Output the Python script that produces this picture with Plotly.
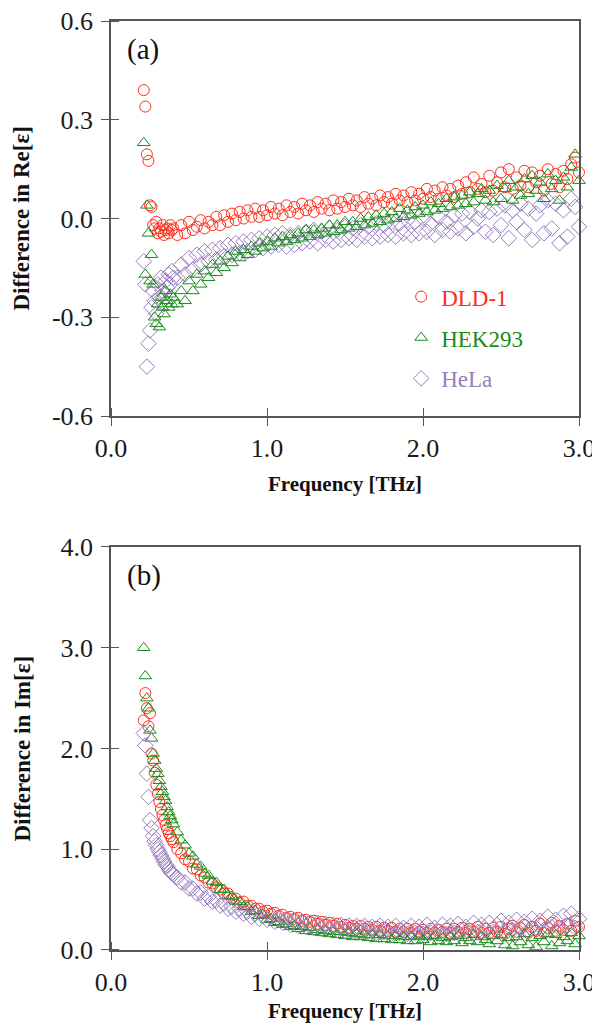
import plotly.graph_objects as go

# Frequency grid [THz]
freq = [0.21, 0.22, 0.23, 0.24, 0.25, 0.26, 0.27, 0.28, 0.29, 0.30,
        0.31, 0.32, 0.33, 0.34, 0.35, 0.36, 0.37, 0.38, 0.39, 0.40,
        0.425, 0.45, 0.475, 0.5, 0.525, 0.55, 0.575, 0.6, 0.625, 0.65,
        0.675, 0.7, 0.725, 0.75, 0.775, 0.8, 0.825, 0.85, 0.875, 0.9,
        0.925, 0.95, 0.975, 1.0, 1.025, 1.05, 1.075, 1.1, 1.125, 1.15,
        1.175, 1.2, 1.225, 1.25, 1.275, 1.3, 1.325, 1.35, 1.375, 1.4,
        1.425, 1.45, 1.475, 1.5, 1.525, 1.55, 1.575, 1.6, 1.625, 1.65,
        1.675, 1.7, 1.725, 1.75, 1.775, 1.8, 1.825, 1.85, 1.875, 1.9,
        1.925, 1.95, 1.975, 2.0, 2.025, 2.05, 2.075, 2.1, 2.125, 2.15,
        2.175, 2.2, 2.225, 2.25, 2.275, 2.3, 2.325, 2.35, 2.375, 2.4,
        2.425, 2.45, 2.475, 2.5, 2.525, 2.55, 2.575, 2.6, 2.625, 2.65,
        2.675, 2.7, 2.725, 2.75, 2.775, 2.8, 2.825, 2.85, 2.875, 2.9,
        2.925, 2.95, 2.975, 3.0]

# (a) difference in Re[eps]
re_dld1 = [0.39, 0.34, 0.195, 0.175, 0.04, 0.035, -0.02, -0.03, -0.01, -0.045,
           -0.03, -0.04, -0.02, -0.05, -0.035, -0.03, -0.045, -0.02, -0.035, -0.03,
           -0.05, -0.02, -0.045, -0.01, -0.035, -0.025, -0.005, -0.03, -0.01, -0.02,
           0.005, -0.02, 0.01, -0.01, 0.015, -0.005, 0.02, 0.0, 0.025, 0.005,
           0.03, 0.005, 0.025, 0.01, 0.035, 0.015, 0.03, 0.01, 0.04, 0.02,
           0.035, 0.015, 0.045, 0.025, 0.04, 0.02, 0.05, 0.03, 0.045, 0.025,
           0.055, 0.03, 0.05, 0.035, 0.06, 0.04, 0.055, 0.035, 0.065, 0.045,
           0.06, 0.04, 0.07, 0.05, 0.065, 0.045, 0.075, 0.055, 0.07, 0.05,
           0.08, 0.055, 0.075, 0.06, 0.09, 0.065, 0.085, 0.06, 0.095, 0.07,
           0.09, 0.065, 0.1, 0.075, 0.11, 0.08, 0.125, 0.09, 0.105, 0.08,
           0.13, 0.085, 0.11, 0.14, 0.095, 0.15, 0.09, 0.125, 0.1, 0.145,
           0.095, 0.14, 0.11, 0.13, 0.085, 0.15, 0.105, 0.135, 0.095, 0.145,
           0.12, 0.165, 0.185, 0.14]
re_hek293 = [0.23, -0.17, 0.04, -0.045, -0.19, -0.11, -0.2, -0.3, -0.32, -0.26,
             -0.33, -0.24, -0.27, -0.29, -0.22, -0.25, -0.27, -0.23, -0.26, -0.24,
             -0.26, -0.22, -0.25, -0.19, -0.22, -0.17, -0.2, -0.16, -0.18, -0.14,
             -0.165, -0.13, -0.15, -0.115, -0.135, -0.1, -0.12, -0.095, -0.11, -0.085,
             -0.1, -0.075, -0.09, -0.07, -0.085, -0.06, -0.075, -0.055, -0.07, -0.05,
             -0.065, -0.045, -0.06, -0.035, -0.055, -0.035, -0.05, -0.03, -0.045, -0.02,
             -0.04, -0.02, -0.035, -0.01, -0.03, -0.01, -0.025, 0.0, -0.02, 0.005,
             -0.015, 0.01, -0.01, 0.015, -0.005, 0.02, 0.0, 0.03, 0.005, 0.025,
             0.01, 0.035, 0.015, 0.04, 0.02, 0.05, 0.025, 0.045, 0.03, 0.06,
             0.035, 0.065, 0.04, 0.07, 0.045, 0.08, 0.05, 0.075, 0.09, 0.055,
             0.085, 0.05, 0.1, 0.06, 0.09, 0.115, 0.055, 0.095, 0.07, 0.12,
             0.075, 0.13, 0.085, 0.11, 0.06, 0.135, 0.09, 0.115, 0.055, 0.125,
             0.095, 0.155, 0.195, 0.115]
re_hela = [-0.13, -0.2, -0.45, -0.38, -0.34, -0.27, -0.22, -0.25, -0.29, -0.2,
           -0.24, -0.18, -0.22, -0.26, -0.19, -0.21, -0.17, -0.2, -0.16, -0.18,
           -0.18, -0.14, -0.17, -0.12, -0.155, -0.11, -0.14, -0.1, -0.13, -0.095,
           -0.125, -0.09, -0.115, -0.08, -0.11, -0.075, -0.105, -0.07, -0.1, -0.065,
           -0.095, -0.06, -0.09, -0.055, -0.085, -0.05, -0.08, -0.045, -0.085, -0.05,
           -0.08, -0.045, -0.075, -0.04, -0.07, -0.035, -0.075, -0.04, -0.065, -0.03,
           -0.07, -0.035, -0.065, -0.025, -0.06, -0.03, -0.065, -0.02, -0.055, -0.025,
           -0.06, -0.015, -0.055, -0.02, -0.05, -0.01, -0.055, -0.015, -0.045, -0.005,
           -0.05, -0.01, -0.045, 0.0, -0.04, -0.015, -0.05, 0.005, -0.035, -0.01,
           -0.04, 0.01, -0.03, 0.015, -0.045, 0.02, -0.025, 0.0, 0.025, -0.04,
           0.02, -0.05, 0.03, -0.02, 0.04, -0.06, 0.025, -0.01, 0.045, -0.035,
           0.03, -0.065, 0.015, 0.04, -0.045, 0.055, -0.03, 0.045, -0.075, 0.025,
           -0.055, 0.06, 0.035, -0.025]

# (b) difference in Im[eps]
im_dld1 = [2.28, 2.55, 2.4, 2.22, 2.35, 1.95, 1.88, 1.76, 1.64, 1.55,
           1.47, 1.4, 1.34, 1.29, 1.24, 1.2, 1.16, 1.13, 1.1, 1.07,
           1.0, 0.96, 0.9, 0.88, 0.81, 0.8, 0.74, 0.72, 0.67, 0.66,
           0.62, 0.6, 0.56, 0.56, 0.51, 0.51, 0.47, 0.48, 0.44, 0.44,
           0.41, 0.41, 0.38, 0.39, 0.36, 0.37, 0.34, 0.35, 0.32, 0.33,
           0.31, 0.32, 0.29, 0.3, 0.28, 0.29, 0.26, 0.28, 0.25, 0.27,
           0.24, 0.26, 0.23, 0.25, 0.22, 0.24, 0.21, 0.24, 0.21, 0.23,
           0.2, 0.23, 0.19, 0.22, 0.19, 0.22, 0.18, 0.21, 0.18, 0.21,
           0.17, 0.21, 0.18, 0.2, 0.17, 0.21, 0.17, 0.2, 0.18, 0.21,
           0.17, 0.21, 0.18, 0.22, 0.17, 0.21, 0.18, 0.23, 0.17, 0.21,
           0.17, 0.22, 0.18, 0.23, 0.16, 0.21, 0.24, 0.18, 0.22, 0.25,
           0.17, 0.23, 0.19, 0.26, 0.17, 0.22, 0.27, 0.19, 0.24, 0.2,
           0.26, 0.19, 0.29, 0.23]
im_hek293 = [3.0, 2.72, 2.5, 2.4, 2.18, 2.1, 1.95, 1.88, 1.8, 1.75,
             1.68, 1.62, 1.57, 1.52, 1.48, 1.42, 1.37, 1.33, 1.29, 1.25,
             1.17, 1.09, 1.04, 0.96, 0.93, 0.85, 0.83, 0.76, 0.74, 0.68,
             0.67, 0.6, 0.6, 0.54, 0.53, 0.48, 0.48, 0.43, 0.43, 0.38,
             0.39, 0.34, 0.35, 0.3, 0.31, 0.27, 0.28, 0.25, 0.26, 0.23,
             0.24, 0.21, 0.23, 0.19, 0.22, 0.18, 0.2, 0.17, 0.19, 0.16,
             0.18, 0.15, 0.18, 0.14, 0.17, 0.13, 0.16, 0.13, 0.15, 0.12,
             0.15, 0.11, 0.15, 0.11, 0.14, 0.1, 0.14, 0.1, 0.13, 0.09,
             0.13, 0.09, 0.14, 0.1, 0.13, 0.08, 0.14, 0.09, 0.12, 0.08,
             0.13, 0.09, 0.14, 0.07, 0.12, 0.09, 0.15, 0.08, 0.13, 0.1,
             0.06, 0.14, 0.09, 0.15, 0.05, 0.12, 0.04, 0.13, 0.08, 0.16,
             0.05, 0.12, 0.03, 0.14, 0.08, 0.16, 0.04, 0.15, 0.07, 0.13,
             0.09, 0.17, 0.06, 0.14]
im_hela = [2.15, 2.03, 1.75, 1.52, 1.29, 1.21, 1.13, 1.08, 1.04, 1.0,
           0.97, 0.94, 0.91, 0.88, 0.85, 0.83, 0.8, 0.78, 0.76, 0.75,
           0.72, 0.67, 0.67, 0.61, 0.61, 0.56, 0.57, 0.51, 0.53, 0.48,
           0.49, 0.44, 0.46, 0.41, 0.43, 0.38, 0.41, 0.36, 0.38, 0.33,
           0.36, 0.31, 0.34, 0.3, 0.33, 0.28, 0.31, 0.27, 0.3, 0.25,
           0.29, 0.24, 0.28, 0.23, 0.27, 0.22, 0.27, 0.21, 0.26, 0.21,
           0.25, 0.2, 0.25, 0.19, 0.24, 0.19, 0.24, 0.18, 0.24, 0.18,
           0.23, 0.17, 0.24, 0.18, 0.23, 0.16, 0.24, 0.17, 0.22, 0.16,
           0.24, 0.17, 0.23, 0.16, 0.25, 0.17, 0.22, 0.18, 0.25, 0.16,
           0.24, 0.17, 0.26, 0.19, 0.23, 0.17, 0.27, 0.18, 0.25, 0.2,
           0.27, 0.18, 0.25, 0.29, 0.19, 0.27, 0.2, 0.3, 0.21, 0.28,
           0.19, 0.31, 0.22, 0.29, 0.2, 0.33, 0.23, 0.3, 0.21, 0.34,
           0.24, 0.36, 0.22, 0.31]

x_ticks = [0.0, 1.0, 2.0, 3.0]
x_ticktext = ["0.0", "1.0", "2.0", "3.0"]
re_ticks = [-0.6, -0.3, 0.0, 0.3, 0.6]
re_ticktext = ["-0.6", "-0.3", "0.0", "0.3", "0.6"]
im_ticks = [0.0, 1.0, 2.0, 3.0, 4.0]
im_ticktext = ["0.0", "1.0", "2.0", "3.0", "4.0"]

RED = "rgb(255,45,25)"
GREEN = "rgb(25,140,25)"
PURPLE = "rgb(150,125,190)"
FONT = "Liberation Serif"
AXCOL = "#555555"

fig = go.Figure()

# panel (a) - HeLa drawn first so it sits underneath
fig.add_trace(go.Scatter(x=freq, y=re_hela, mode="markers", xaxis="x", yaxis="y",
                         name="<span style='color:%s'>HeLa</span>" % PURPLE, legendrank=3,
                         legendgroup="c", cliponaxis=False,
                         marker=dict(symbol="diamond-open", size=12, color=PURPLE, line=dict(width=1))))
fig.add_trace(go.Scatter(x=freq, y=re_dld1, mode="markers", xaxis="x", yaxis="y",
                         name="<span style='color:%s'>DLD-1</span>" % RED, legendrank=1,
                         legendgroup="a", cliponaxis=False,
                         marker=dict(symbol="circle-open", size=11, color=RED, line=dict(width=1))))
fig.add_trace(go.Scatter(x=freq, y=re_hek293, mode="markers", xaxis="x", yaxis="y",
                         name="<span style='color:%s'>HEK293</span>" % GREEN, legendrank=2,
                         legendgroup="b", cliponaxis=False,
                         marker=dict(symbol="triangle-up-open", size=11, color=GREEN, line=dict(width=1))))

# panel (b)
fig.add_trace(go.Scatter(x=freq, y=im_dld1, mode="markers", xaxis="x2", yaxis="y2", showlegend=False,
                         cliponaxis=False,
                         marker=dict(symbol="circle-open", size=11, color=RED, line=dict(width=1))))
fig.add_trace(go.Scatter(x=freq, y=im_hek293, mode="markers", xaxis="x2", yaxis="y2", showlegend=False,
                         cliponaxis=False,
                         marker=dict(symbol="triangle-up-open", size=11, color=GREEN, line=dict(width=1))))
fig.add_trace(go.Scatter(x=freq, y=im_hela, mode="markers", xaxis="x2", yaxis="y2", showlegend=False,
                         cliponaxis=False,
                         marker=dict(symbol="diamond-open", size=12, color=PURPLE, line=dict(width=1))))

def axis_style(tickvals, ticktext, rng, domain, anchor, title=None, lblgap=0):
    ax = dict(range=rng, domain=domain, anchor=anchor, automargin=False,
              tickvals=tickvals, ticktext=ticktext, ticklabeloverflow="allow",
              ticklabelstandoff=lblgap,
              ticks="outside", ticklen=8, tickwidth=1.3, tickcolor=AXCOL,
              minor=dict(tickvals=tickvals, ticks="inside", ticklen=8, tickwidth=1.3, tickcolor=AXCOL),
              showline=True, linecolor=AXCOL, linewidth=1.5, mirror=True,
              showgrid=False, zeroline=False,
              tickfont=dict(family=FONT, size=26, color="#1a1a1a"))
    if title:
        ax["title"] = dict(text=title, standoff=14, font=dict(family=FONT, size=21, color="#111111"))
    return ax

def ytitle(text, yref):
    return dict(text=text, textangle=-90, x=0, xref="paper", xanchor="center", xshift=-89,
                y=0.5, yref=yref, yanchor="middle", showarrow=False,
                font=dict(family=FONT, size=23, color="#111111"))

# the page body adds an 8px offset, so the figure is sized to fit the window
fig.update_layout(
    width=592, height=1015,
    margin=dict(l=103, r=21, t=13, b=73),
    paper_bgcolor="white", plot_bgcolor="white",
    xaxis=axis_style(x_ticks, x_ticktext, [0, 3.0], [0, 1], "y", "<b>Frequency [THz]</b>"),
    yaxis=axis_style(re_ticks, re_ticktext, [-0.6, 0.6], [0.5748, 1.0], "x", lblgap=3),
    xaxis2=axis_style(x_ticks, x_ticktext, [0, 3.0], [0, 1], "y2", "<b>Frequency [THz]</b>"),
    yaxis2=axis_style(im_ticks, im_ticktext, [0, 4.0], [0, 0.4338], "x2", lblgap=3),
    legend=dict(x=0.62, y=0.7264, xanchor="left", yanchor="top", bgcolor="rgba(0,0,0,0)",
                font=dict(family=FONT, size=23), tracegroupgap=8, itemsizing="trace"),
    annotations=[
        dict(text="(a)", x=0.03, y=0.975, xref="x domain", yref="y domain", xanchor="left", yanchor="top",
             showarrow=False, font=dict(family=FONT, size=29, color="#111111")),
        dict(text="(b)", x=0.03, y=0.975, xref="x2 domain", yref="y2 domain", xanchor="left", yanchor="top",
             showarrow=False, font=dict(family=FONT, size=29, color="#111111")),
        ytitle("<b>Difference in Re[ε]</b>", "y domain"),
        ytitle("<b>Difference in Im[ε]</b>", "y2 domain"),
    ],
)

fig.write_html("out.html")
